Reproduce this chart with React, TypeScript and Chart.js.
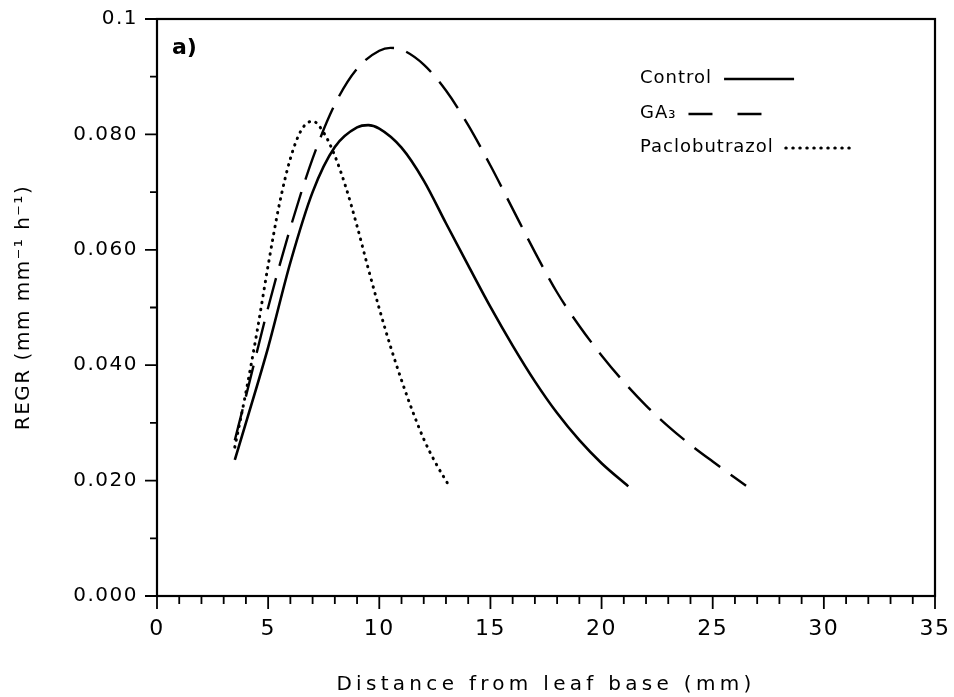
import React, { useEffect, useRef } from "react";
import { Chart, registerables } from "chart.js";

Chart.register(...registerables);

// ---- data ----
const controlX = [3.5, 4.0, 5.0, 6.0, 7.0, 8.0, 9.0, 9.5, 10.0, 11.0, 12.0, 13.0, 14.0, 15.0, 16.0, 17.0, 18.0, 19.0, 20.0, 21.2];
const controlY = [0.0236, 0.03, 0.0431, 0.0578, 0.07, 0.0778, 0.0812, 0.0816, 0.081, 0.0777, 0.072, 0.0646, 0.0573, 0.0501, 0.0434, 0.0372, 0.0317, 0.027, 0.023, 0.019];

const ga3X = [3.5, 4.0, 5.0, 6.0, 7.0, 8.0, 9.0, 10.0, 10.5, 11.0, 12.0, 13.0, 14.0, 15.0, 16.0, 17.0, 18.0, 19.0, 20.0, 21.0, 22.0, 23.0, 24.0, 25.0, 26.5];
const ga3Y = [0.027, 0.0346, 0.05, 0.0638, 0.0758, 0.0852, 0.0914, 0.0945, 0.095, 0.0947, 0.0921, 0.0876, 0.0816, 0.0746, 0.0671, 0.0596, 0.0526, 0.0468, 0.0417, 0.0371, 0.033, 0.0294, 0.0262, 0.0233, 0.0191];

const pacloX = [3.5, 4.0, 4.5, 5.0, 5.5, 6.0, 6.5, 7.0, 7.5, 8.0, 8.5, 9.0, 9.5, 10.0, 10.5, 11.0, 11.5, 12.0, 12.5, 13.2];
const pacloY = [0.0258, 0.0353, 0.0458, 0.0573, 0.0678, 0.0758, 0.0808, 0.0823, 0.0803, 0.0763, 0.0708, 0.0641, 0.0568, 0.0498, 0.0433, 0.0374, 0.032, 0.0272, 0.0233, 0.0187];

const seriesLabels = ["Control", "GA\u2083", "Paclobutrazol"];

const xTickValues = [0, 5, 10, 15, 20, 25, 30, 35];
const xTickLabels = ["0", "5", "10", "15", "20", "25", "30", "35"];
const xMinorTickValues = Array.from({ length: 36 }, (_, i) => i);

const yTickValues = [0, 0.02, 0.04, 0.06, 0.08, 0.1];
const yTickLabels = ["0.000", "0.020", "0.040", "0.060", "0.080", "0.1"];
const yMinorTickValues = [0, 0.01, 0.02, 0.03, 0.04, 0.05, 0.06, 0.07, 0.08, 0.09, 0.1];

const xTitle = "Distance from leaf base (mm)";
const yTitle = "REGR (mm mm\u207B\u00B9 h\u207B\u00B9)";
const panelLabel = "a)";

const FONT = '"DejaVu Sans", "Liberation Sans", sans-serif';

const toPoints = (xs: number[], ys: number[]) => xs.map((x, i) => ({ x, y: ys[i] }));

const decorPlugin = {
  id: "decor",
  // layers with z <= 0 (x-axis title) are drawn before the datasets
  beforeDraw(chart: any) {
    chart.ctx.letterSpacing = "4.3px";
  },
  // layers with z > 0 (tick labels, y-axis title) are drawn after the datasets
  afterDatasetsDraw(chart: any) {
    chart.ctx.letterSpacing = "1.5px";
  },
  afterDraw(chart: any) {
    const { ctx, chartArea: a, scales } = chart;
    ctx.save();
    ctx.letterSpacing = "0px";
    ctx.strokeStyle = "#000";
    ctx.fillStyle = "#000";
    ctx.setLineDash([]);
    // frame
    ctx.lineWidth = 2.2;
    ctx.strokeRect(a.left, a.top, a.right - a.left, a.bottom - a.top);
    // x tick marks
    ctx.lineWidth = 1.8;
    ctx.beginPath();
    xMinorTickValues.forEach((v) => {
      const px = scales.x.getPixelForValue(v);
      const len = v % 5 === 0 ? 13 : 8;
      ctx.moveTo(px, a.bottom);
      ctx.lineTo(px, a.bottom + len);
    });
    // y tick marks
    yMinorTickValues.forEach((v, i) => {
      const py = scales.y.getPixelForValue(v);
      const len = i % 2 === 0 ? 12 : 7;
      ctx.moveTo(a.left, py);
      ctx.lineTo(a.left - len, py);
    });
    ctx.stroke();

    // panel label
    ctx.font = `bold 22px ${FONT}`;
    ctx.textBaseline = "middle";
    ctx.textAlign = "left";
    ctx.fillText(panelLabel, 172, 48);

    // legend (text then line sample)
    const rows = [78, 113, 147];
    const sampleLen = [70, 74, 70];
    const sampleDash = [[], [24, 25], [0.5, 6.5]];
    ctx.font = `18px ${FONT}`;
    chart.data.datasets.forEach((ds: any, i: number) => {
      const y = rows[i];
      ctx.letterSpacing = "1px";
      ctx.fillText(ds.label, 640, y);
      const w = ctx.measureText(ds.label).width;
      ctx.letterSpacing = "0px";
      const x0 = 640 + w + 12;
      ctx.beginPath();
      ctx.lineWidth = ds.borderWidth;
      ctx.lineCap = ds.borderCapStyle || "butt";
      ctx.setLineDash(sampleDash[i]);
      ctx.moveTo(x0, y + 1);
      ctx.lineTo(x0 + sampleLen[i], y + 1);
      ctx.stroke();
    });
    ctx.restore();
  },
};

export default function App() {
  const ref = useRef<HTMLCanvasElement | null>(null);

  useEffect(() => {
    if (!ref.current) return;
    const chart = new Chart(ref.current, {
      type: "line",
      data: {
        datasets: [
          {
            label: seriesLabels[0],
            data: toPoints(controlX, controlY),
            borderColor: "#000",
            borderWidth: 2.6,
            pointRadius: 0,
            cubicInterpolationMode: "monotone",
            fill: false,
          },
          {
            label: seriesLabels[1],
            data: toPoints(ga3X, ga3Y),
            borderColor: "#000",
            borderWidth: 2.4,
            borderDash: [32, 13],
            pointRadius: 0,
            cubicInterpolationMode: "monotone",
            fill: false,
          },
          {
            label: seriesLabels[2],
            data: toPoints(pacloX, pacloY),
            borderColor: "#000",
            borderWidth: 3,
            borderDash: [0.5, 6.5],
            borderCapStyle: "round",
            pointRadius: 0,
            cubicInterpolationMode: "monotone",
            fill: false,
          },
        ],
      },
      options: {
        animation: false,
        responsive: true,
        maintainAspectRatio: false,
        layout: { padding: { top: 19, right: 19, left: 0, bottom: 0 } },
        plugins: { legend: { display: false }, tooltip: { enabled: false } },
        scales: {
          x: {
            type: "linear",
            min: 0,
            max: 35,
            afterBuildTicks: (s: any) => {
              s.ticks = xTickValues.map((v) => ({ value: v }));
            },
            afterFit: (s: any) => {
              s.height = 101;
              s.paddingLeft = 0;
              s.paddingRight = 0;
            },
            grid: { display: false, drawTicks: false, z: -1 },
            border: { display: false },
            ticks: {
              z: 1,
              padding: 20,
              color: "#000",
              maxRotation: 0,
              autoSkip: false,
              font: { family: FONT, size: 22 },
              callback: (v: any) => {
                const i = xTickValues.indexOf(Number(v));
                return i >= 0 ? xTickLabels[i] : "";
              },
            },
            title: {
              display: true,
              text: xTitle,
              color: "#000",
              font: { family: FONT, size: 20 },
              padding: { top: 0, bottom: 0 },
            },
          },
          y: {
            type: "linear",
            min: 0,
            max: 0.1,
            afterBuildTicks: (s: any) => {
              s.ticks = yTickValues.map((v) => ({ value: v }));
            },
            afterFit: (s: any) => {
              s.width = 157;
              s.paddingTop = 0;
              s.paddingBottom = 0;
            },
            grid: { display: false, drawTicks: false, z: 1 },
            border: { display: false },
            ticks: {
              z: 1,
              padding: 19,
              color: "#000",
              autoSkip: false,
              font: { family: FONT, size: 20 },
              callback: (v: any) => {
                const i = yTickValues.findIndex((t) => Math.abs(t - Number(v)) < 1e-9);
                return i >= 0 ? yTickLabels[i] : "";
              },
            },
            title: {
              display: true,
              text: yTitle,
              color: "#000",
              font: { family: FONT, size: 20 },
              padding: { top: 12, bottom: 0 },
            },
          },
        },
      },
      plugins: [decorPlugin],
    } as any);
    return () => chart.destroy();
  }, []);

  return (
    <div style={{ position: "absolute", left: 0, top: 0, width: 954, height: 697, background: "#fff" }}>
      <canvas ref={ref} />
    </div>
  );
}
